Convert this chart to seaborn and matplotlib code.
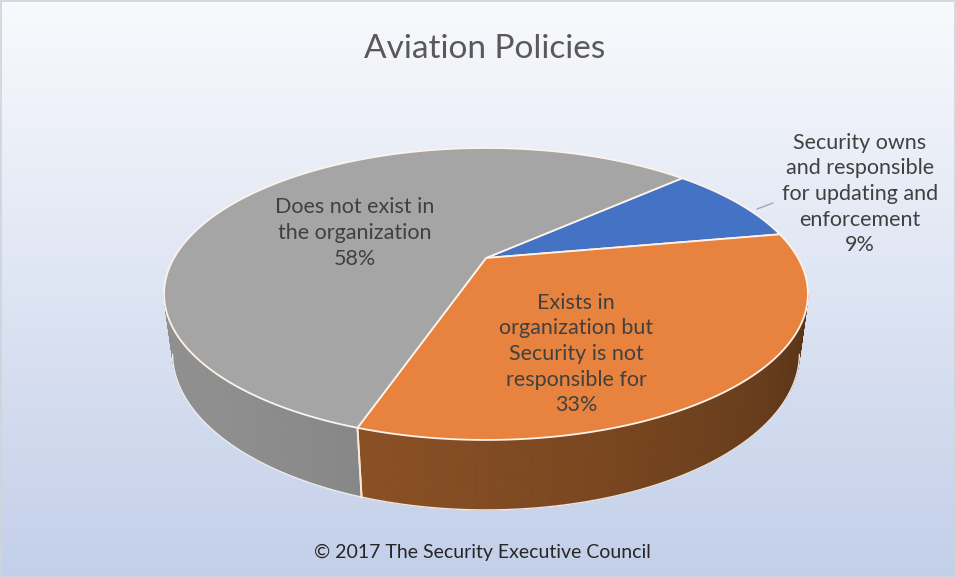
import numpy as np
import matplotlib
matplotlib.use("Agg")
import matplotlib.pyplot as plt
from matplotlib.patches import Polygon, Rectangle
import seaborn as sns

# ---- chart content -------------------------------------------------------
title = "Aviation Policies"
footer = "© 2017 The Security Executive Council"
categories = [
    "Security owns\nand responsible\nfor updating and\nenforcement",
    "Exists in\norganization but\nSecurity is not\nresponsible for",
    "Does not exist in\nthe organization",
]
shares = [9, 33, 58]

# ---- styling -------------------------------------------------------------
top_colors = ["#4472c4", "#e8833f", "#a5a5a5"]
wall_colors = ["#2f5597", "#8a5024", "#878787"]
label_pos = [(860, 194), (576, 354), (355, 233)]
start_angle = 42.8

sns.set_theme(style="white")
plt.rcParams["font.family"] = ["Lato", "DejaVu Sans"]

W, H = 956, 577
fig = plt.figure(figsize=(W / 100, H / 100), dpi=100)
ax = fig.add_axes([0, 0, 1, 1])
ax.set_xlim(0, W)
ax.set_ylim(H, 0)
ax.axis("off")

# vertical background gradient
g = np.linspace(0, 1, 256)[:, None, None]
c_top = np.array([0.975, 0.978, 0.99])
c_bot = np.array([0.765, 0.815, 0.915])
bg = c_top + (c_bot - c_top) * g
ax.imshow(bg, extent=[0, W, H, 0], aspect="auto", zorder=0)
ax.add_patch(Rectangle((0.5, 0.5), W - 1, H - 1, fill=False,
                       edgecolor="#cfd3da", lw=1.2, zorder=1))

# ---- perspective projection of a tilted disc ----------------------------
ELEV = np.deg2rad(26.07)
DIST = 3.645
SCALE = 312.0
CX, CY = 486.0, 258.0
DEPTH = 0.211


def project(t_deg, level=0.0):
    t = np.deg2rad(np.asarray(t_deg, dtype=float))
    level = np.asarray(level, dtype=float)
    X = np.cos(t)
    Z = np.sin(t)
    Y = -DEPTH * level + 0 * t
    c, s = np.cos(ELEV), np.sin(ELEV)
    Yp = Y * c + Z * s
    Zp = -Y * s + Z * c
    k = DIST / (DIST + Zp)
    return CX + SCALE * X * k, CY - SCALE * Yp * k


# silhouette angles of the cylinder side
tt = np.linspace(-270, -90, 3601)
t_left = tt[np.argmin(project(tt)[0])]
tt = np.linspace(-90, 90, 3601)
t_right = tt[np.argmax(project(tt)[0])]

bounds = start_angle - np.concatenate([[0], np.cumsum(shares)]) * 3.6


def shade(t):
    return 0.82 + 0.24 * np.cos(np.deg2rad(t + 150))


# side walls (front half only)
for i in range(len(shares)):
    a0, a1 = bounds[i], bounds[i + 1]          # a0 > a1 (clockwise)
    for off in (0, -360, 360):
        lo = max(a1 + off, t_left)
        hi = min(a0 + off, t_right)
        if hi <= lo:
            continue
        ts = np.linspace(lo, hi, int((hi - lo) * 2) + 2)
        base = np.array(matplotlib.colors.to_rgb(wall_colors[i]))
        for j in range(len(ts) - 1):
            q = [ts[j], ts[j + 1]]
            xt, yt = project(q, 0)
            xb, yb = project(q, 1)
            col = np.clip(base * shade(0.5 * (q[0] + q[1])), 0, 1)
            ax.add_patch(Polygon(
                [(xt[0], yt[0]), (xt[1], yt[1]), (xb[1], yb[1]), (xb[0], yb[0])],
                closed=True, facecolor=col, edgecolor=col, lw=0.6, zorder=2))
        # wall outline: bottom rim and vertical seams
        xb, yb = project(ts, 1)
        ax.plot(xb, yb, color="white", lw=1.0, alpha=0.85, zorder=3)
        for te in (lo, hi):
            if t_left < te < t_right:
                xs, ys = project([te, te], [0, 1])
                ax.plot(xs, ys, color="#fbe9d8", lw=1.3, zorder=3)

# top faces
for i in range(len(shares)):
    a0, a1 = bounds[i], bounds[i + 1]
    ts = np.linspace(a0, a1, 200)
    xs, ys = project(ts, 0)
    pts = [(CX, CY)] + list(zip(xs, ys))
    ax.add_patch(Polygon(pts, closed=True, facecolor=top_colors[i],
                         edgecolor="#fdf3ea", lw=1.3, zorder=4))

# data labels
for i, (cat, val) in enumerate(zip(categories, shares)):
    x, y = label_pos[i]
    ax.text(x, y, f"{cat}\n{val}%", ha="center", va="center",
            fontsize=15.5, color="#404040", linespacing=1.35, zorder=6)

# leader line for the small slice
ax.plot([757, 773], [209, 203], color="#a6a6a6", lw=1.0, zorder=5)

ax.text(485, 49, title, ha="center", va="center", fontsize=24,
        color="#595959", zorder=6)
ax.text(482, 552, footer, ha="center", va="center", fontsize=14,
        color="#262626", zorder=6)

fig.savefig("out.png", dpi=100)
